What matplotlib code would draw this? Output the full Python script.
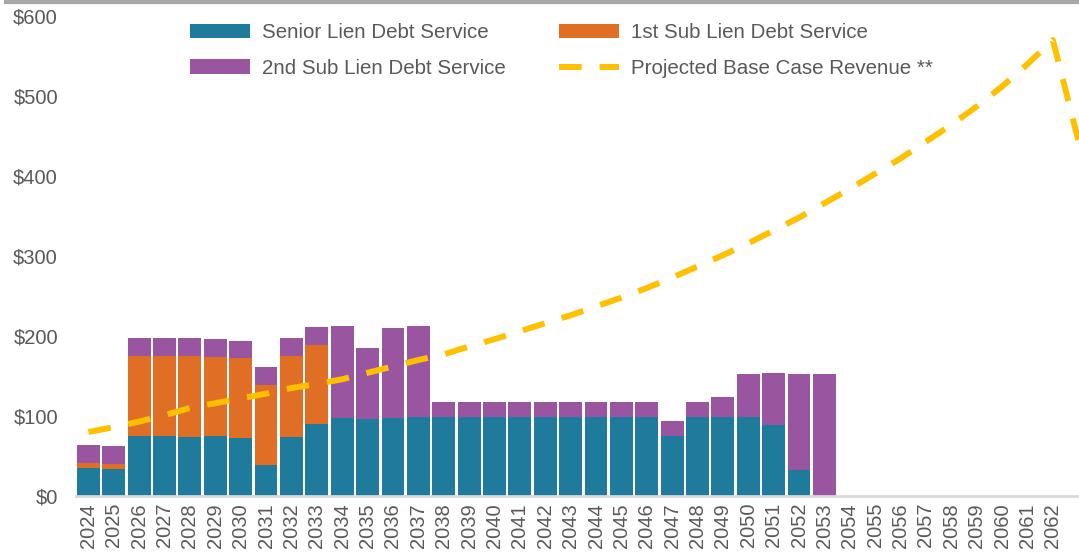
import matplotlib.pyplot as plt
import matplotlib.lines as mlines
import numpy as np

plt.rcParams['font.family'] = ['Liberation Sans', 'DejaVu Sans']

years = [str(y) for y in range(2024, 2063)]
senior = [35, 34, 75, 75, 74, 75, 73, 39, 74, 90, 98, 96, 98, 99, 99,
          99, 99, 99, 99, 99, 99, 99, 99, 75, 99, 99, 99, 89, 33, 0,
          0, 0, 0, 0, 0, 0, 0, 0, 0]
sub1 = [6, 6, 100, 100, 101, 99, 99, 100, 101, 99, 0, 0, 0, 0, 0,
        0, 0, 0, 0, 0, 0, 0, 0, 0, 0, 0, 0, 0, 0, 0,
        0, 0, 0, 0, 0, 0, 0, 0, 0]
sub2 = [23, 22, 22, 22, 22, 22, 22, 22, 22, 22, 115, 89, 112, 114, 19,
        19, 19, 19, 19, 19, 19, 19, 19, 19, 19, 25, 54, 65, 120, 153,
        0, 0, 0, 0, 0, 0, 0, 0, 0]
# revenue runs one year past the last label (2063), clipped at the right edge
revenue = [80, 86, 93, 101, 110, 116, 122, 128, 135, 140, 146, 154, 162, 170,
           177, 187, 196, 206, 216, 226, 237, 248, 260, 273, 287, 301, 316,
           332, 348, 366, 384, 403, 422, 443, 464, 487, 512, 540, 570, 445]

c_sen = '#1f7b9b'
c_s1 = '#e06e24'
c_s2 = '#9a55a0'
c_rev = '#ffc000'
txt = '#595959'

fig = plt.figure(figsize=(10.79, 5.54), dpi=100)
ax = fig.add_axes([0.0704, 0.1047, 0.9296, 0.8663])

x = np.arange(len(years))
sen = np.array(senior)
s1 = np.array(sub1)
s2 = np.array(sub2)
b1 = ax.bar(x, sen, width=0.9, color=c_sen, label='Senior Lien Debt Service')
b2 = ax.bar(x, s1, width=0.9, bottom=sen, color=c_s1, label='1st Sub Lien Debt Service')
b3 = ax.bar(x, s2, width=0.9, bottom=sen + s1, color=c_s2, label='2nd Sub Lien Debt Service')
ln, = ax.plot(np.arange(len(revenue)), revenue, color=c_rev, lw=4.3,
              dashes=(3.8, 3.0), solid_capstyle='butt', dash_capstyle='butt',
              label='Projected Base Case Revenue **')

ax.set_xlim(-0.49, 39.03)
ax.set_ylim(0, 600)
ax.set_xticks(x)
ax.set_xticklabels(years, rotation=90, fontsize=14.5, color=txt)
ax.set_yticks(range(0, 601, 100))
ax.set_yticklabels(['$%d' % v for v in range(0, 601, 100)], fontsize=14.5, color=txt)
ax.tick_params(axis='both', length=0, pad=5)
ax.tick_params(axis='y', pad=13)
for s in ['top', 'right', 'left']:
    ax.spines[s].set_visible(False)
ax.spines['bottom'].set_color('#d9d9d9')
ax.spines['bottom'].set_linewidth(2)

fig.legend(handles=[b1, b3, b2, ln], ncol=2, loc='upper left',
           bbox_to_anchor=(0.176, 0.958), frameon=False, fontsize=14.8,
           labelcolor=txt, handlelength=2.9, handletextpad=0.6,
           columnspacing=2.6, labelspacing=0.8, borderpad=0, borderaxespad=0)

fig.add_artist(mlines.Line2D([0.006, 1], [0.997, 0.997], color='#a6a6a6', lw=3,
                             transform=fig.transFigure))

fig.savefig('out.png', dpi=100)
